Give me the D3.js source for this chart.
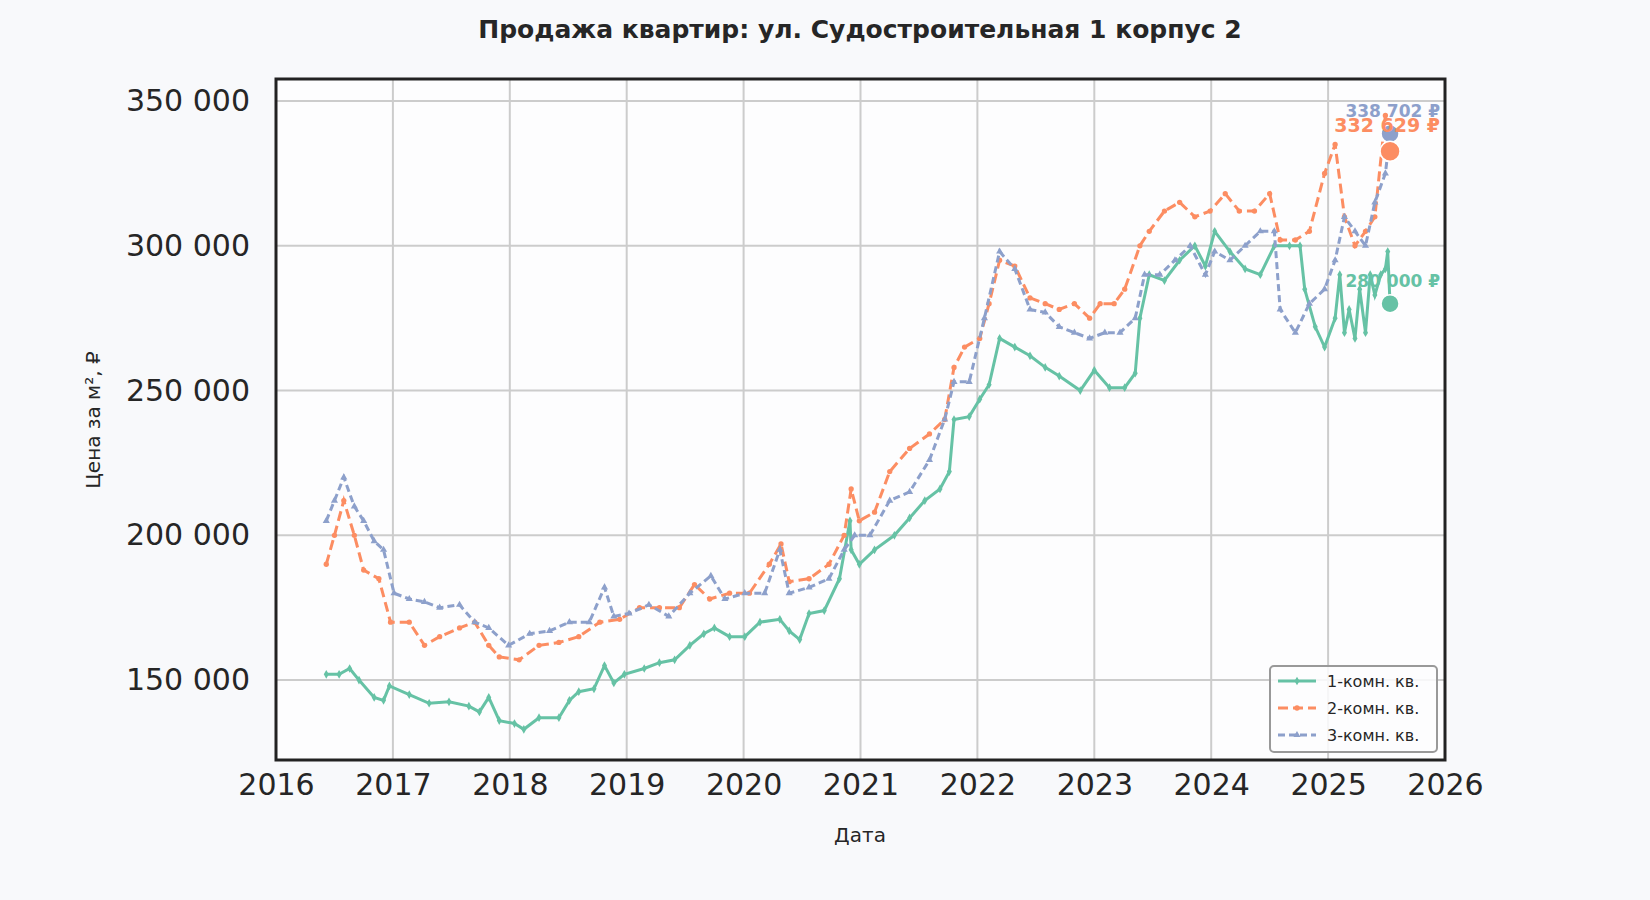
<!DOCTYPE html>
<html><head><meta charset="utf-8">
<script src="https://cdn.jsdelivr.net/npm/d3@7"></script>
<style>body{margin:0;background:#f8f9fb;font-family:"DejaVu Sans",sans-serif}</style>
</head><body><svg id="chart" width="1650" height="900"></svg>
<script>
// decimal years and price per m2
var d1 = [2016.43,2016.54,2016.63,2016.71,2016.84,2016.92,2016.97,2017.14,2017.31,2017.48,2017.65,2017.74,2017.82,2017.91,2018.04,2018.12,2018.25,2018.42,2018.51,2018.59,2018.72,2018.81,2018.89,2018.98,2019.15,2019.28,2019.41,2019.54,2019.66,2019.75,2019.88,2020.01,2020.14,2020.31,2020.39,2020.48,2020.56,2020.69,2020.82,2020.91,2020.92,2020.99,2021.12,2021.29,2021.42,2021.55,2021.68,2021.76,2021.80,2021.93,2022.02,2022.10,2022.19,2022.32,2022.45,2022.58,2022.70,2022.88,2023.00,2023.13,2023.26,2023.35,2023.39,2023.47,2023.60,2023.73,2023.86,2023.95,2024.03,2024.16,2024.29,2024.42,2024.54,2024.67,2024.76,2024.80,2024.89,2024.97,2025.06,2025.10,2025.14,2025.18,2025.23,2025.27,2025.32,2025.36,2025.40,2025.45,2025.49,2025.51,2025.53];
var v1 = [152000,152000,154000,150000,144000,143000,148000,145000,142000,142500,141000,139000,144000,136000,135000,133000,137000,137000,143000,146000,147000,155000,149000,152000,154000,156000,157000,162000,166000,168000,165000,165000,170000,171000,167000,164000,173000,174000,185000,205000,195000,190000,195000,200000,206000,212000,216000,222000,240000,241000,247000,252000,268000,265000,262000,258000,255000,250000,257000,251000,251000,256000,275000,290000,288000,295000,300000,293000,305000,298000,292000,290000,300000,300000,300000,285000,272000,265000,275000,290000,270000,278000,268000,285000,270000,290000,283000,290000,292000,298000,280000,306560];
var d2 = [2016.43,2016.50,2016.58,2016.67,2016.75,2016.88,2016.98,2017.14,2017.27,2017.40,2017.57,2017.70,2017.82,2017.91,2018.08,2018.25,2018.42,2018.59,2018.77,2018.94,2019.11,2019.28,2019.45,2019.58,2019.71,2019.88,2020.05,2020.22,2020.32,2020.39,2020.56,2020.73,2020.86,2020.92,2020.99,2021.12,2021.25,2021.42,2021.59,2021.72,2021.80,2021.89,2022.02,2022.10,2022.19,2022.32,2022.45,2022.58,2022.70,2022.83,2022.96,2023.05,2023.17,2023.26,2023.39,2023.47,2023.60,2023.73,2023.86,2023.99,2024.12,2024.24,2024.37,2024.50,2024.59,2024.72,2024.84,2024.97,2025.06,2025.14,2025.23,2025.32,2025.40,2025.49,2025.53];
var v2 = [190000,200000,212000,200000,188000,185000,170000,170000,162000,165000,168000,170000,162000,158000,157000,162000,163000,165000,170000,171000,175000,175000,175000,183000,178000,180000,180000,190000,197000,184000,185000,190000,200000,216000,205000,208000,222000,230000,235000,240000,258000,265000,268000,280000,295000,293000,282000,280000,278000,280000,275000,280000,280000,285000,300000,305000,312000,315000,310000,312000,318000,312000,312000,318000,302000,302000,305000,325000,335000,310000,300000,305000,310000,345000,332629];
var d3d = [2016.43,2016.50,2016.58,2016.67,2016.75,2016.84,2016.92,2017.01,2017.14,2017.27,2017.40,2017.57,2017.70,2017.82,2017.99,2018.17,2018.34,2018.51,2018.68,2018.81,2018.89,2019.02,2019.19,2019.36,2019.54,2019.72,2019.84,2020.01,2020.18,2020.31,2020.39,2020.56,2020.73,2020.86,2020.95,2021.08,2021.25,2021.42,2021.59,2021.72,2021.80,2021.93,2022.06,2022.19,2022.32,2022.45,2022.58,2022.70,2022.83,2022.96,2023.09,2023.22,2023.35,2023.43,2023.56,2023.69,2023.82,2023.95,2024.03,2024.16,2024.29,2024.42,2024.54,2024.59,2024.72,2024.84,2024.97,2025.06,2025.14,2025.23,2025.32,2025.40,2025.49,2025.53];
var v3 = [205000,212000,220000,210000,205000,198000,195000,180000,178000,177000,175000,176000,170000,168000,162000,166000,167000,170000,170000,182000,172000,173000,176000,172000,180000,186000,178000,180000,180000,195000,180000,182000,185000,195000,200000,200000,212000,215000,226000,240000,253000,253000,275000,298000,292000,278000,277000,272000,270000,268000,270000,270000,275000,290000,290000,295000,300000,290000,298000,295000,300000,305000,305000,278000,270000,280000,285000,295000,310000,305000,300000,315000,325000,338702];
var names = ["1-комн. кв.","2-комн. кв.","3-комн. кв."];
var colors = ["#66c2a5","#fc8d62","#8da0cb"];
var yTicks = [150000,200000,250000,300000,350000];
var xTicks = [2016,2017,2018,2019,2020,2021,2022,2023,2024,2025,2026];

var series = [
  {name:names[0], color:colors[0], dash:null, shape:d3.symbolDiamond, pts:d1.map(function(d,i){return [d,v1[i]];})},
  {name:names[1], color:colors[1], dash:"10,5", shape:d3.symbolCircle, pts:d2.map(function(d,i){return [d,v2[i]];})},
  {name:names[2], color:colors[2], dash:"7,4", shape:d3.symbolTriangle, pts:d3d.map(function(d,i){return [d,v3[i]];})}
];

var svg = d3.select("#chart");
var L = 276, R = 1445, T = 79, B = 760;
var x = d3.scaleLinear().domain([2016,2026]).range([L,R]);
var y = d3.scaleLinear().domain([122400,357600]).range([B,T]);
var fmt = function(v){ return d3.format(",")(v).replace(/,/g," "); };

svg.append("rect").attr("x",L).attr("y",T).attr("width",R-L).attr("height",B-T).attr("fill","#fdfdfe");
svg.append("g").selectAll("line").data(xTicks).enter().append("line")
  .attr("x1",x).attr("x2",x).attr("y1",T).attr("y2",B).attr("stroke","#cccccc").attr("stroke-width",2);
svg.append("g").selectAll("line").data(yTicks).enter().append("line")
  .attr("y1",y).attr("y2",y).attr("x1",L).attr("x2",R).attr("stroke","#cccccc").attr("stroke-width",2);

var xa = svg.append("g").attr("transform","translate(0,"+B+")")
  .call(d3.axisBottom(x).tickValues(xTicks).tickFormat(d3.format("d")).tickSize(0).tickPadding(14));
var ya = svg.append("g").attr("transform","translate("+L+",0)")
  .call(d3.axisLeft(y).tickValues(yTicks).tickFormat(fmt).tickSize(0).tickPadding(26));
[xa,ya].forEach(function(a){ a.select(".domain").remove();
  a.selectAll("text").attr("font-size",30).attr("fill","#262626").attr("font-family","DejaVu Sans"); });

var line = d3.line().x(function(p){return x(p[0]);}).y(function(p){return y(p[1]);});
series.forEach(function(s){
  svg.append("path").datum(s.pts).attr("d",line).attr("fill","none")
    .attr("stroke",s.color).attr("stroke-width",3).attr("stroke-dasharray",s.dash);
  svg.append("g").selectAll("path").data(s.pts).enter().append("path")
    .attr("d",d3.symbol().type(s.shape).size(22))
    .attr("transform",function(p){return "translate("+x(p[0])+","+y(p[1])+")";})
    .attr("fill",s.color);
});

// last values
series.slice().reverse().forEach(function(s){
  var p = s.pts[s.pts.length-1];
  svg.append("circle").attr("cx",x(p[0])).attr("cy",y(p[1])).attr("r",s===series[1]?10:9)
    .attr("fill",s.color).attr("stroke","#fff").attr("stroke-width",1.5);
  svg.append("text").attr("x",x(p[0])+50).attr("y",y(p[1])-(s===series[1]?19:17)).attr("text-anchor","end")
    .attr("font-size",s===series[1]?19:17).attr("font-weight","bold").attr("fill",s.color)
    .text(fmt(p[1])+" ₽");
});

svg.append("rect").attr("x",L).attr("y",T).attr("width",R-L).attr("height",B-T)
  .attr("fill","none").attr("stroke","#222").attr("stroke-width",3);

// legend
var lg = svg.append("g").attr("transform","translate(1270,666)");
lg.append("rect").attr("width",167).attr("height",86).attr("rx",4)
  .attr("fill","#fdfdfe").attr("fill-opacity",0.85).attr("stroke","#999").attr("stroke-width",2);
series.forEach(function(s,i){
  var yy = 15+i*27;
  lg.append("line").attr("x1",8).attr("x2",46).attr("y1",yy).attr("y2",yy)
    .attr("stroke",s.color).attr("stroke-width",3).attr("stroke-dasharray",s.dash);
  lg.append("path").attr("d",d3.symbol().type(s.shape).size(22)).attr("transform","translate(27,"+yy+")").attr("fill",s.color);
  lg.append("text").attr("x",57).attr("y",yy+6).attr("font-size",16).attr("fill","#262626").text(s.name);
});

svg.append("text").attr("x",860).attr("y",38).attr("text-anchor","middle")
  .attr("font-size",25).attr("font-weight","bold").attr("fill","#262626")
  .text("Продажа квартир: ул. Судостроительная 1 корпус 2");
svg.append("text").attr("x",860).attr("y",842).attr("text-anchor","middle")
  .attr("font-size",20).attr("fill","#262626").text("Дата");
svg.append("text").attr("transform","translate(100,420) rotate(-90)").attr("text-anchor","middle")
  .attr("font-size",20).attr("fill","#262626").text("Цена за м², ₽");
</script></body></html>
